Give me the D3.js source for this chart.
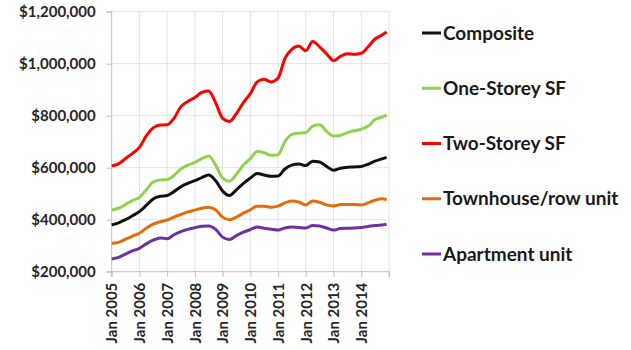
<!DOCTYPE html>
<html><head><meta charset="utf-8">
<script src="https://cdn.jsdelivr.net/npm/d3@7"></script>
<style>body{margin:0;background:#fff}svg{display:block}</style>
</head><body><svg id="c" width="631" height="350"></svg>
<script>
const dates = ["2005-01","2005-04","2005-07","2005-10","2006-01","2006-04","2006-07","2006-10",
"2007-01","2007-04","2007-07","2007-10","2008-01","2008-04","2008-07","2008-10",
"2009-01","2009-04","2009-07","2009-10","2010-01","2010-04","2010-07","2010-10",
"2011-01","2011-04","2011-07","2011-10","2012-01","2012-04","2012-07","2012-10",
"2013-01","2013-04","2013-07","2013-10","2014-01","2014-04","2014-07","2014-10","2014-12"];
const composite = [380,388,400,415,431,455,480,490,493,508,527,540,550,562,572,550,510,493,515,540,560,578,572,567,568,595,610,614,608,625,622,605,590,598,602,603,605,613,625,634,640];
const oneStorey = [437,444,458,474,486,515,545,553,554,570,595,610,620,635,645,610,560,548,575,610,635,662,658,648,650,700,728,733,735,760,765,740,722,725,735,742,748,760,785,795,802];
const twoStorey = [607,615,635,655,678,722,753,764,765,790,835,855,870,890,895,850,790,778,808,850,885,930,940,930,945,1020,1055,1068,1050,1085,1065,1038,1012,1028,1038,1036,1040,1065,1095,1110,1122];
const townhouse = [309,313,325,337,348,367,383,392,399,410,420,430,437,444,448,438,410,400,410,425,438,452,452,448,452,465,472,468,457,472,467,457,453,458,458,458,457,465,475,481,477];
const apartment = [249,255,268,280,290,307,321,330,327,342,354,363,369,375,376,363,333,324,339,352,362,372,367,363,360,368,372,370,368,378,376,368,360,366,367,368,370,374,378,380,382];
const seriesNames = ["Composite","One-Storey SF","Two-Storey SF","Townhouse/row unit","Apartment unit"];
const seriesColors = ["#111111","#92d050","#ff0000","#e46c0a","#7030a0"];
const yTicks = [200000,400000,600000,800000,1000000,1200000];
const xTickYears = [2005,2006,2007,2008,2009,2010,2011,2012,2013,2014,2015];

const svg = d3.select("#c");
const parse = d3.timeParse("%Y-%m");
const x = d3.scaleTime().domain([new Date(2005,0,1), new Date(2015,0,1)]).range([111.7, 389]);
const y = d3.scaleLinear().domain([200000,1200000]).range([271.7, 11.7]);
const font = "Lato, 'Open Sans', sans-serif";

// grid
svg.append("g").selectAll("line.h").data(yTicks.slice(1)).join("line")
  .attr("x1",x.range()[0]).attr("x2",x.range()[1]).attr("y1",d=>y(d)).attr("y2",d=>y(d))
  .attr("stroke","#e3e3e3").attr("stroke-width",1);
svg.append("g").selectAll("line.v").data(xTickYears.slice(1)).join("line")
  .attr("x1",d=>x(new Date(d,0,1))).attr("x2",d=>x(new Date(d,0,1))).attr("y1",y(1200000)).attr("y2",y(200000))
  .attr("stroke","#e3e3e3").attr("stroke-width",1);

// axes
const yAxis = d3.axisLeft(y).tickValues(yTicks).tickSize(5).tickFormat(d=>"$"+d3.format(",")(d));
const gy = svg.append("g").attr("transform",`translate(${x.range()[0]},0)`).call(yAxis);
gy.select(".domain").attr("stroke","#bfbfbf").attr("d",`M-5,${y(1200000)}H0V${y(200000)}H-5`);
gy.selectAll(".tick line").attr("stroke","#bfbfbf");
gy.selectAll(".tick text").attr("x",-16).attr("font-family",font).attr("font-weight","bold")
  .attr("font-size","15px").attr("fill","#262626");

const xAxis = d3.axisBottom(x).tickValues(xTickYears.map(d=>new Date(d,0,1))).tickSize(5)
  .tickFormat(d=> d.getFullYear()===2015 ? "" : "Jan " + d.getFullYear());
const gx = svg.append("g").attr("transform",`translate(0,${y(200000)})`).call(xAxis);
gx.select(".domain").attr("stroke","#bfbfbf").attr("d",`M${x.range()[0]},5V0H${x.range()[1]}V5`);
gx.selectAll(".tick line").attr("stroke","#bfbfbf");
gx.selectAll(".tick text").attr("transform","rotate(-90)").attr("text-anchor","end")
  .attr("x",-11).attr("y",0).attr("dy","0.35em").attr("font-family",font).attr("font-weight","bold")
  .attr("font-size","15px").attr("fill","#262626");

// lines
const all = [composite, oneStorey, twoStorey, townhouse, apartment];
const line = d3.line().x((d,i)=>x(parse(dates[i]))).y(d=>y(d*1000)).curve(d3.curveMonotoneX);
const order = [4,3,0,1,2];
order.forEach(i=>{
  svg.append("path").datum(all[i]).attr("d",line).attr("fill","none")
    .attr("stroke",seriesColors[i]).attr("stroke-width",3).attr("stroke-linejoin","round");
});

// legend
const legY = d3.scalePoint().domain(seriesNames).range([33,254]);
const lg = svg.append("g");
seriesNames.forEach((n,i)=>{
  lg.append("line").attr("x1",422).attr("x2",441).attr("y1",legY(n)).attr("y2",legY(n))
    .attr("stroke",seriesColors[i]).attr("stroke-width",3);
  lg.append("text").attr("x",443).attr("y",legY(n)).attr("dy","0.35em").text(n)
    .attr("font-family",font).attr("font-weight","bold").attr("font-size","19px").attr("fill","#1a1a1a");
});
</script></body></html>
